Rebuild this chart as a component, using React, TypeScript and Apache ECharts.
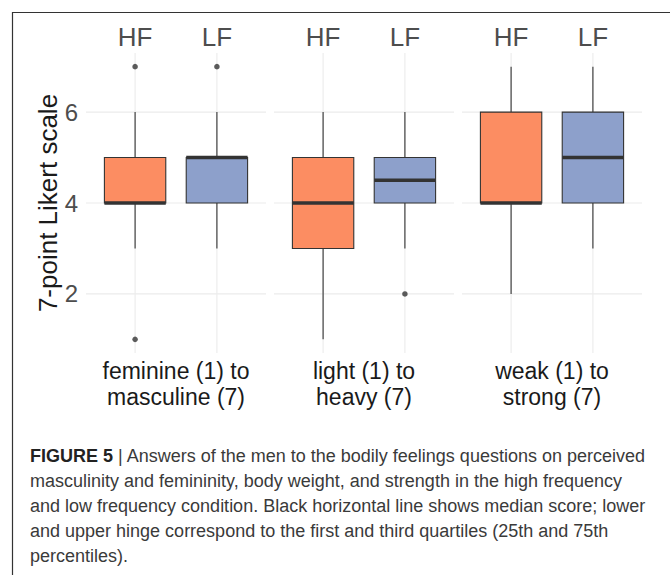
import React, { useEffect, useRef } from "react";
import * as echarts from "echarts";

const facets = ["feminine (1) to\nmasculine (7)", "light (1) to\nheavy (7)", "weak (1) to\nstrong (7)"];
const conditions = ["HF", "LF"];
const conditionColors = ["#FC8D62", "#8DA0CB"];
// [lower whisker, Q1, median, Q3, upper whisker]
const hfBoxes = [
  [3, 4, 4, 5, 6],
  [1, 3, 4, 5, 6],
  [2, 4, 4, 6, 7],
];
const lfBoxes = [
  [3, 4, 5, 5, 6],
  [3, 4, 4.5, 5, 6],
  [3, 4, 5, 6, 7],
];
const hfOutliers = [[7, 1], [], []];
const lfOutliers = [[7], [2], []];
const yTicks = [2, 4, 6];
const yMin = 0.7;
const yMax = 7.3;

const captionLines = [
  "masculinity and femininity, body weight, and strength in the high frequency",
  "and low frequency condition. Black horizontal line shows median score; lower",
  "and upper hinge correspond to the first and third quartiles (25th and 75th",
  "percentiles).",
];

const FONT = "'Liberation Sans', Arial, Helvetica, sans-serif";

export default function App() {
  const ref = useRef<HTMLDivElement>(null);
  useEffect(() => {
    if (!ref.current) return;
    const chart = echarts.init(ref.current, null, { renderer: "svg" });

    const grids: any[] = [];
    const xAxes: any[] = [];
    const yAxes: any[] = [];
    const series: any[] = [];

    facets.forEach((facet, i) => {
      grids.push({ left: 86 + i * 188, top: 53, width: 180, height: 300 });
      xAxes.push({
        gridIndex: i,
        type: "value",
        position: "top",
        min: 0.4,
        max: 2.6,
        axisLine: { show: false },
        axisTick: { show: false },
        splitLine: { show: false },
        axisLabel: {
          customValues: [1, 2],
          formatter: (v: number) => conditions[Math.round(v) - 1] ?? "",
          fontSize: 26,
          color: "#4D4D4D",
          fontFamily: FONT,
          margin: 3,
        },
      });
      xAxes.push({
        gridIndex: i,
        type: "value",
        position: "bottom",
        min: 0.4,
        max: 2.6,
        axisLine: { show: false },
        axisTick: { show: false },
        splitLine: { show: false },
        axisLabel: {
          customValues: [1.5],
          formatter: () => facet,
          fontSize: 23,
          lineHeight: 26,
          color: "#1A1A1A",
          fontFamily: FONT,
          margin: 5,
        },
      });
      yAxes.push({
        gridIndex: i,
        type: "value",
        min: yMin,
        max: yMax,
        axisLine: { show: false },
        axisTick: { show: false },
        splitLine: { show: false },
        name: i === 0 ? "7-point Likert scale" : "",
        nameLocation: "middle",
        nameRotate: 90,
        nameGap: 25,
        nameTextStyle: { fontSize: 26, color: "#1A1A1A", fontFamily: FONT },
        axisLabel: {
          show: i === 0,
          customValues: yTicks,
          fontSize: 24,
          color: "#4D4D4D",
          fontFamily: FONT,
          margin: 8,
        },
      });

      // grid lines
      series.push({
        type: "custom",
        xAxisIndex: 2 * i,
        yAxisIndex: i,
        z: 1,
        silent: true,
        data: [...yTicks.map((v) => [0, v]), ...conditions.map((_, k) => [1, k + 1])],
        renderItem: (params: any, api: any) => {
          const cs = params.coordSys;
          const kind = api.value(0);
          const v = api.value(1);
          if (kind === 0) {
            const p = api.coord([1, v]);
            return {
              type: "line",
              shape: { x1: cs.x, y1: p[1], x2: cs.x + cs.width, y2: p[1] },
              style: { stroke: "#EBEBEB", lineWidth: 1.1 },
            };
          }
          const p = api.coord([v, 4]);
          return {
            type: "line",
            shape: { x1: p[0], y1: cs.y, x2: p[0], y2: cs.y + cs.height },
            style: { stroke: "#EBEBEB", lineWidth: 1.1 },
          };
        },
      });

      // boxes
      const boxData = [hfBoxes[i], lfBoxes[i]].map((b, k) => [k + 1, ...b]);
      series.push({
        type: "custom",
        xAxisIndex: 2 * i,
        yAxisIndex: i,
        z: 3,
        data: boxData,
        renderItem: (params: any, api: any) => {
          const x = api.value(0);
          const lo = api.coord([x, api.value(1)]);
          const q1 = api.coord([x, api.value(2)]);
          const med = api.coord([x, api.value(3)]);
          const q3 = api.coord([x, api.value(4)]);
          const hi = api.coord([x, api.value(5)]);
          const half = api.size([0.75, 0])[0] / 2;
          const px = lo[0];
          const fill = conditionColors[Math.round(x) - 1];
          return {
            type: "group",
            children: [
              { type: "line", shape: { x1: px, y1: lo[1], x2: px, y2: q1[1] }, style: { stroke: "#333333", lineWidth: 1.1 } },
              { type: "line", shape: { x1: px, y1: q3[1], x2: px, y2: hi[1] }, style: { stroke: "#333333", lineWidth: 1.1 } },
              {
                type: "rect",
                shape: { x: px - half, y: q3[1], width: 2 * half, height: q1[1] - q3[1] },
                style: { fill, stroke: "#333333", lineWidth: 1.1 },
              },
              { type: "line", shape: { x1: px - half, y1: med[1], x2: px + half, y2: med[1] }, style: { stroke: "#333333", lineWidth: 3.5 } },
            ],
          };
        },
      });

      // outliers
      const outData: number[][] = [];
      hfOutliers[i].forEach((v) => outData.push([1, v]));
      lfOutliers[i].forEach((v) => outData.push([2, v]));
      series.push({
        type: "scatter",
        xAxisIndex: 2 * i,
        yAxisIndex: i,
        z: 4,
        symbolSize: 5.5,
        itemStyle: { color: "#333333" },
        data: outData,
      });
    });

    chart.setOption({
      animation: false,
      backgroundColor: "#FFFFFF",
      grid: grids,
      xAxis: xAxes,
      yAxis: yAxes,
      series,
      graphic: [
        {
          type: "rect",
          shape: { x: 12.5, y: 12.5, width: 700, height: 600 },
          style: { fill: "none", stroke: "#333333", lineWidth: 1.2 },
          silent: true,
        },
        {
          type: "text",
          x: 30,
          y: 443,
          style: {
            text: "{b|FIGURE 5} | Answers of the men to the bodily feelings questions on perceived\n" + captionLines.join("\n"),
            fontSize: 18,
            lineHeight: 25,
            fontFamily: FONT,
            fill: "#3A3A3A",
            rich: {
              b: { fontWeight: "bold", fontSize: 18, fontFamily: FONT, fill: "#222222", lineHeight: 25 },
            },
          },
        },
      ],
    });
    return () => chart.dispose();
  }, []);
  return <div ref={ref} style={{ position: "absolute", left: 0, top: 0, width: 670, height: 575 }} />;
}
